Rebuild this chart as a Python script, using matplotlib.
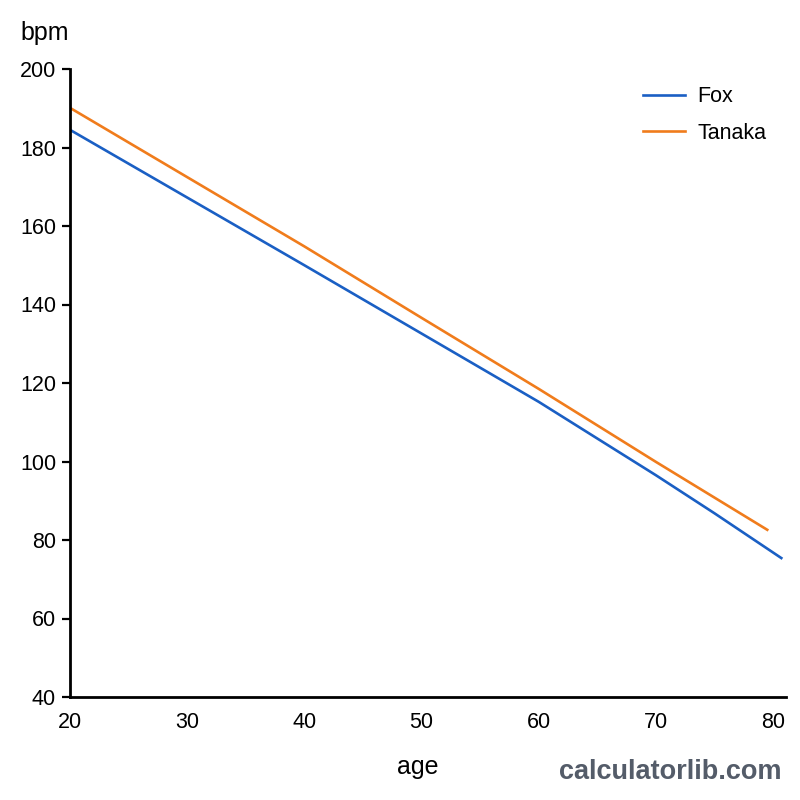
import matplotlib
matplotlib.use("Agg")
import matplotlib.pyplot as plt

# =========================================
# DATA
# =========================================
fox_age = [20, 40, 50, 60, 70, 75, 80.7]
fox_bpm = [184.5, 150.0, 132.6, 115.2, 96.5, 86.8, 75.4]

tanaka_age = [20, 40, 50, 60, 70, 79.5]
tanaka_bpm = [190.1, 154.8, 136.6, 118.5, 99.9, 82.6]

x_ticks = [20, 30, 40, 50, 60, 70, 80]
y_ticks = [40, 60, 80, 100, 120, 140, 160, 180, 200]

FOX_COLOR = "#1a5fc4"
TANAKA_COLOR = "#f07c1c"

# =========================================
# PLOT
# =========================================
plt.rcParams["font.family"] = ["Liberation Sans", "DejaVu Sans"]

fig = plt.figure(figsize=(8, 8), dpi=100)
ax = fig.add_axes([0.0875, 0.12875, 0.895, 0.785])

ax.plot(fox_age, fox_bpm, color=FOX_COLOR, linewidth=1.9, label="Fox")
ax.plot(tanaka_age, tanaka_bpm, color=TANAKA_COLOR, linewidth=1.9, label="Tanaka")

ax.set_xlim(20, 81.1)
ax.set_ylim(40, 200)
ax.set_xticks(x_ticks)
ax.set_yticks(y_ticks)

for side in ["top", "right"]:
    ax.spines[side].set_visible(False)
for side in ["left", "bottom"]:
    ax.spines[side].set_linewidth(2.0)
    ax.spines[side].set_color("black")

ax.tick_params(axis="y", length=6, width=1.6, labelsize=15.5, pad=4)
ax.tick_params(axis="x", length=0, labelsize=15.5, pad=11)

fig.text(20 / 800, 1 - 33 / 800, "bpm", fontsize=18, ha="left", va="center")
fig.text(418 / 800, 1 - 767 / 800, "age", fontsize=18, ha="center", va="center")
fig.text(782 / 800, 1 - 772 / 800, "calculatorlib.com", fontsize=19.5, fontweight="bold",
         color="#545c69", ha="right", va="center")

ax.legend(loc="upper right", bbox_to_anchor=(1.0, 1.003), frameon=False, fontsize=15.5,
          handlelength=1.95, handletextpad=0.6, labelspacing=0.7)

fig.savefig("out.png", dpi=100, facecolor="white")
